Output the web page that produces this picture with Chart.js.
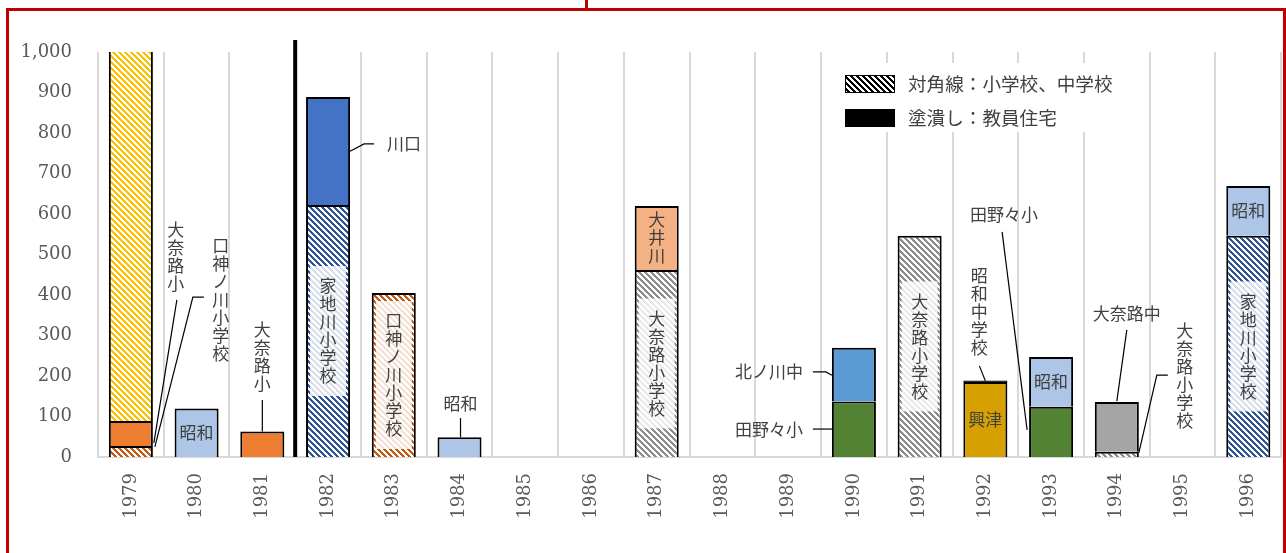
<!DOCTYPE html>
<html lang="ja">
<head>
<meta charset="utf-8">
<title>年度別 建設費</title>
<script src="https://cdn.jsdelivr.net/npm/chart.js@4.4.1/dist/chart.umd.min.js"></script>
<style>
    html, body { margin: 0; padding: 0; background: #fff; }
    #wrap { position: relative; width: 1286px; height: 553px; overflow: hidden; }
    #chart { position: absolute; left: 0; top: 0; }
    .frame { position: absolute; background: #c00000; }
</style>
</head>
<body>
<div id="wrap">
    <canvas id="chart" width="1286" height="553"></canvas>
    <div class="frame" style="left:6px;top:8px;width:1280px;height:3px"></div>
    <div class="frame" style="left:6px;top:8px;width:3px;height:545px"></div>
    <div class="frame" style="left:1283px;top:8px;width:3px;height:545px"></div>
    <div class="frame" style="left:585px;top:0;width:3px;height:10px"></div>
</div>
<script>
const years = ['1979', '1980', '1981', '1982', '1983', '1984', '1985', '1986', '1987',
    '1988', '1989', '1990', '1991', '1992', '1993', '1994', '1995', '1996'];
const yTicks = [0, 100, 200, 300, 400, 500, 600, 700, 800, 900, 1000];

// one array per school / housing, index = year
const kuchiKaminokawaSho = [27, null, null, null, 405, null, null, null, null, null, null, null, null, null, null, null, null, null];
const onaroSho = [62, null, 63, null, null, null, null, null, null, null, null, null, null, null, null, null, null, null];
const yellowSchool = [1100, null, null, null, null, null, null, null, null, null, null, null, null, null, null, null, null, null];
const iejigawaSho = [null, null, null, 622, null, null, null, null, null, null, null, null, null, null, null, null, null, 546];
const kawaguchi = [null, null, null, 267, null, null, null, null, null, null, null, null, null, null, null, null, null, null];
const onaroShogakko = [null, null, null, null, null, null, null, null, 462, null, null, null, 546, null, null, 13, null, null];
const oikawa = [null, null, null, null, null, null, null, null, 158, null, null, null, null, null, null, null, null, null];
const tanonoSho = [null, null, null, null, null, null, null, null, null, null, null, 137, null, null, 124, null, null, null];
const kitanokawaChu = [null, null, null, null, null, null, null, null, null, null, null, 133, null, null, null, null, null, null];
const okitsu = [null, null, null, null, null, null, null, null, null, null, null, null, null, 185, null, null, null, null];
const showaChu = [null, null, null, null, null, null, null, null, null, null, null, null, null, 4, null, null, null, null];
const onaroChu = [null, null, null, null, null, null, null, null, null, null, null, null, null, null, null, 123, null, null];
const showa = [null, 120, null, null, null, 49, null, null, null, null, null, null, null, null, 123, null, null, 123];

const TEXT = '#404040';
const JP_FONT = '"Noto Sans CJK JP", sans-serif';
const NUM_FONT = '"DejaVu Serif", serif';

const hatch = (color) => {
    const tile = document.createElement('canvas');
    tile.width = 6;
    tile.height = 6;
    const c = tile.getContext('2d');
    c.fillStyle = '#ffffff';
    c.fillRect(0, 0, 6, 6);
    c.fillStyle = color;
    for (let y = 0; y < 6; y++) {
        for (let x = 0; x < 6; x++) {
            if ((((x - y) % 6) + 6) % 6 < 3) {
                c.fillRect(x, y, 1, 1);
            }
        }
    }
    return c.createPattern(tile, 'repeat');
};

const series = [
    { key: 'kuchiKaminokawaSho', label: '口神ノ川小学校', data: kuchiKaminokawaSho, fill: hatch('#c55a11') },
    { key: 'onaroSho', label: '大奈路小', data: onaroSho, fill: '#ed7d31' },
    { key: 'yellowSchool', label: '', data: yellowSchool, fill: hatch('#ffc000'), clip: 0 },
    { key: 'iejigawaSho', label: '家地川小学校', data: iejigawaSho, fill: hatch('#2f5597') },
    { key: 'kawaguchi', label: '川口', data: kawaguchi, fill: '#4472c4' },
    { key: 'onaroShogakko', label: '大奈路小学校', data: onaroShogakko, fill: hatch('#8c8c8c') },
    { key: 'oikawa', label: '大井川', data: oikawa, fill: '#f4b183' },
    { key: 'tanonoSho', label: '田野々小', data: tanonoSho, fill: '#548235' },
    { key: 'kitanokawaChu', label: '北ノ川中', data: kitanokawaChu, fill: '#5b9bd5' },
    { key: 'okitsu', label: '興津', data: okitsu, fill: '#d6a000' },
    { key: 'showaChu', label: '昭和中学校', data: showaChu, fill: '#000000' },
    { key: 'onaroChu', label: '大奈路中', data: onaroChu, fill: '#a5a5a5' },
    { key: 'showa', label: '昭和', data: showa, fill: '#adc5e7' },
];

// labels drawn inside a segment
const insideLabels = [
    { key: 'showa', year: '1980', text: '昭和' },
    { key: 'iejigawaSho', year: '1982', text: '家地川小学校', vertical: true, box: true },
    { key: 'kuchiKaminokawaSho', year: '1983', text: '口神ノ川小学校', vertical: true, box: true },
    { key: 'oikawa', year: '1987', text: '大井川', vertical: true },
    { key: 'onaroShogakko', year: '1987', text: '大奈路小学校', vertical: true, box: true },
    { key: 'onaroShogakko', year: '1991', text: '大奈路小学校', vertical: true, box: true },
    { key: 'okitsu', year: '1992', text: '興津' },
    { key: 'showa', year: '1993', text: '昭和' },
    { key: 'showa', year: '1996', text: '昭和' },
    { key: 'iejigawaSho', year: '1996', text: '家地川小学校', vertical: true, box: true },
];

// labels outside the bars, with leader lines ([dx from bar centre, value])
const calloutLabels = [
    { year: '1979', text: '大奈路小', vertical: true, dx: 45, value: 496, leader: [[46, 388], [23, 35]] },
    { year: '1979', text: '口神ノ川小学校', vertical: true, dx: 90, value: 388, leader: [[73, 395], [62, 395], [24, 25]] },
    { year: '1981', text: '大奈路小', vertical: true, dx: 0, value: 249, leader: [[0, 141], [0, 63]] },
    { year: '1982', text: '川口', dx: 76, value: 775, leader: [[22, 755], [36, 773], [46, 773]] },
    { year: '1984', text: '昭和', dx: 1, value: 133, leader: [[1, 96], [1, 49]] },
    { year: '1990', text: '北ノ川中', dx: -85, value: 210, leader: [[-41, 210], [-28, 210], [-22, 202]] },
    { year: '1990', text: '田野々小', dx: -85, value: 69, leader: [[-41, 69], [-22, 69]] },
    { year: '1992', text: '昭和中学校', vertical: true, dx: -6, value: 360, leader: [[-6, 225], [0, 188]] },
    { year: '1993', text: '田野々小', dx: -47, value: 598, leader: [[-49, 556], [-24, 67]] },
    { year: '1994', text: '大奈路中', dx: 10, value: 355, leader: [[10, 314], [0, 138]] },
    { year: '1994', text: '大奈路小学校', vertical: true, dx: 68, value: 202, leader: [[51, 202], [40, 202], [22, 10]] },
];

const legendItems = [
    { text: '対角線：小学校、中学校', fill: hatch('#000000') },
    { text: '塗潰し：教員住宅', fill: '#000000' },
];

const STEP = 18;

const drawText = (ctx, text, x, y, vertical) => {
    ctx.font = '17px ' + JP_FONT;
    ctx.fillStyle = TEXT;
    ctx.textAlign = 'center';
    ctx.textBaseline = 'middle';
    if (!vertical) {
        ctx.fillText(text, x, y);
        return;
    }
    const chars = Array.from(text);
    const top = y - (chars.length - 1) * STEP / 2;
    chars.forEach((ch, i) => ctx.fillText(ch, x, top + i * STEP));
};

const annotationPlugin = {
    id: 'annotations',
    afterDatasetsDraw(chart) {
        const { ctx, chartArea } = chart;
        const xs = chart.scales.x;
        const ys = chart.scales.y;
        ctx.save();

        insideLabels.forEach((lab) => {
            const dsIndex = series.findIndex((s) => s.key === lab.key);
            const bar = chart.getDatasetMeta(dsIndex).data[years.indexOf(lab.year)];
            const cx = bar.x;
            const cy = (bar.y + bar.base) / 2;
            if (lab.box) {
                const h = Array.from(lab.text).length * STEP + 22;
                ctx.fillStyle = 'rgba(255,255,255,0.82)';
                ctx.fillRect(cx - 18, cy - h / 2, 36, h);
            }
            drawText(ctx, lab.text, cx, cy, lab.vertical);
        });

        calloutLabels.forEach((lab) => {
            const cx = xs.getPixelForValue(years.indexOf(lab.year));
            ctx.strokeStyle = '#000';
            ctx.lineWidth = 1.2;
            ctx.beginPath();
            lab.leader.forEach(([dx, v], i) => {
                const px = cx + dx;
                const py = ys.getPixelForValue(v);
                if (i === 0) ctx.moveTo(px, py); else ctx.lineTo(px, py);
            });
            ctx.stroke();
            drawText(ctx, lab.text, cx + lab.dx, ys.getPixelForValue(lab.value), lab.vertical);
        });

        // separator between 1981 and 1982
        const sepX = (xs.getPixelForValue(2) + xs.getPixelForValue(3)) / 2;
        ctx.fillStyle = '#000';
        ctx.fillRect(sepX - 2, chartArea.top - 12, 4, chartArea.bottom - chartArea.top + 12);

        // legend
        ctx.fillStyle = '#fff';
        ctx.fillRect(835, 63, 292, 69);
        legendItems.forEach((item, i) => {
            const top = 75 + i * 34;
            ctx.fillStyle = item.fill;
            ctx.fillRect(845, top, 50, 18);
            ctx.strokeStyle = '#000';
            ctx.lineWidth = 1;
            ctx.strokeRect(845.5, top + 0.5, 49, 17);
            ctx.font = '18.6px ' + JP_FONT;
            ctx.fillStyle = TEXT;
            ctx.textAlign = 'left';
            ctx.textBaseline = 'middle';
            ctx.fillText(item.text, 908, top + 9);
        });
        ctx.restore();
    },
};

new Chart(document.getElementById('chart'), {
    type: 'bar',
    data: {
        labels: years,
        datasets: series.map((s) => ({
            label: s.label,
            data: s.data,
            backgroundColor: s.fill,
            borderColor: '#000000',
            borderWidth: 2,
            clip: s.clip,
            barPercentage: 0.67,
            categoryPercentage: 1,
        })),
    },
    options: {
        responsive: false,
        animation: false,
        devicePixelRatio: 1,
        layout: { padding: { top: 52, right: 4, left: 0, bottom: 0 } },
        plugins: {
            legend: { display: false },
            tooltip: { enabled: false },
        },
        scales: {
            x: {
                stacked: true,
                grid: { offset: true, color: '#d9d9d9', lineWidth: 2, drawTicks: false },
                border: { color: '#d9d9d9', width: 2 },
                ticks: {
                    minRotation: 90,
                    maxRotation: 90,
                    padding: 16,
                    color: '#595959',
                    font: { family: NUM_FONT, size: 18 },
                },
                afterFit: (scale) => { scale.height = 96; },
            },
            y: {
                stacked: true,
                min: 0,
                max: 1000,
                afterBuildTicks: (scale) => { scale.ticks = yTicks.map((v) => ({ value: v })); },
                grid: { display: false, drawTicks: false },
                border: { display: false },
                ticks: {
                    padding: 26,
                    color: '#595959',
                    font: { family: NUM_FONT, size: 18 },
                    callback: (v) => v.toLocaleString('en-US'),
                },
                afterFit: (scale) => { scale.width = 98; },
            },
        },
    },
    plugins: [annotationPlugin],
});
</script>
</body>
</html>
